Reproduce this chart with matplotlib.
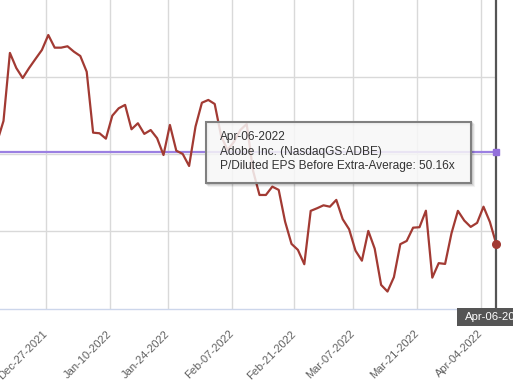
import numpy as np
import pandas as pd
import matplotlib
matplotlib.use("Agg")
import matplotlib.pyplot as plt
from matplotlib.patches import Rectangle

plt.rcParams['font.family'] = ['Liberation Sans', 'DejaVu Sans']

# P/Diluted EPS Before Extra (x), one value per trading day, Dec-14-2021 .. Apr-06-2022
pe_values = [50.80, 52.16, 56.57, 55.59, 54.94, 55.59, 56.18, 56.76,
             57.73, 56.91, 56.91, 57.00, 56.65, 56.37, 55.35, 51.40, 51.36, 51.01,
             52.50, 52.98, 53.20, 51.62, 52.01, 51.32, 51.57, 51.04, 49.95, 51.90,
             50.23, 50.02, 49.24, 51.79, 53.34, 53.52, 53.26, 51.19, 50.28, 50.80,
             51.57, 51.96, 48.92, 47.36, 47.36, 47.90, 47.69, 45.63, 44.19, 43.80,
             42.87, 46.33, 46.50, 46.69, 46.60, 47.04, 45.79, 45.14, 43.75, 43.10,
             45.03, 43.88, 41.53, 41.10, 42.03, 44.17, 44.38, 45.24, 45.27, 46.34,
             42.00, 42.94, 42.89, 44.88, 46.33, 45.70, 45.29, 45.55, 46.60, 45.61,
             44.17]
average_pe = 50.16
market_holidays = ["2021-12-24", "2022-01-17", "2022-02-21"]
tick_dates = ["2021-12-27", "2022-01-10", "2022-01-24", "2022-02-07",
              "2022-02-21", "2022-03-07", "2022-03-21", "2022-04-04"]
tooltip_lines = ["Apr-06-2022",
                 "Adobe Inc. (NasdaqGS:ADBE)",
                 "P/Diluted EPS Before Extra-Average: 50.16x"]
crosshair_label = "Apr-06-2022"

W, H = 513, 391


def fx(px):
    return px / W


def fy(py):
    return 1 - py / H


dates = pd.bdate_range("2021-12-14", "2022-04-06", freq="C", holidays=market_holidays)
idx = np.arange(len(dates))
day_num = (dates - dates[0]).days.values
tick_num = (pd.to_datetime(tick_dates) - dates[0]).days.values
tick_pos = np.interp(tick_num, day_num, idx) - 0.34  # ordinal axis, points sit a bit after midnight
tick_labels = [pd.Timestamp(d).strftime("%b-%d-%Y") for d in tick_dates]

fig = plt.figure(figsize=(W / 100, H / 100), dpi=100)
ax = fig.add_axes([0, 1 - 308.5 / H, 496.3 / W, 308.5 / H])

ax.set_xlim(0.453, idx[-1])
ax.set_ylim(40, 60)
ax.set_yticks([45, 50, 55])
ax.set_xticks(tick_pos)
ax.set_xticklabels(tick_labels, rotation=45, ha='right', va='center',
                   rotation_mode='anchor', fontsize=8, color='#606060')
ax.tick_params(axis='x', length=0, pad=17)
ax.tick_params(axis='y', length=0, labelleft=False)
ax.grid(True, color='#d9d9d9', lw=1)
ax.set_axisbelow(True)
for s in ['top', 'left', 'right']:
    ax.spines[s].set_visible(False)
ax.spines['bottom'].set_color('#ccd6eb')
ax.spines['bottom'].set_linewidth(1)

# average line with end marker
ax.axhline(average_pe, color='#9b80e2', lw=1.6, zorder=2)
ax.plot(idx[-1], average_pe, 's', ms=4.5, color='#9370db', clip_on=False, zorder=5)

# series
ax.plot(idx, pe_values, color='#a23a33', lw=1.6, solid_joinstyle='round', zorder=3)
ax.plot(idx[-1], pe_values[-1], 'o', ms=5.5, color='#a23a33', clip_on=False, zorder=5)

# crosshair
ax.axvline(idx[-1], color='#555555', lw=1.6, zorder=4, clip_on=False)

# crosshair label under the axis
x0, y0, x1, y1 = 457, 308, 520, 326
fig.add_artist(Rectangle((fx(x0), fy(y1)), fx(x1) - fx(x0), fy(y0) - fy(y1),
                         transform=fig.transFigure, facecolor='#555555', edgecolor='none'))
fig.text(fx(465), fy(317.5), crosshair_label, color='white', fontsize=8.2, va='center', ha='left')

# tooltip
x0, y0, x1, y1 = 206, 122, 471, 183
for k, a in [(3, 0.05), (2, 0.08), (1, 0.12)]:
    fig.add_artist(Rectangle((fx(x0 + k), fy(y1 + k)), fx(x1) - fx(x0), fy(y0) - fy(y1),
                             transform=fig.transFigure, facecolor='none',
                             edgecolor=(0, 0, 0, a), lw=1.5, zorder=6))
fig.add_artist(Rectangle((fx(x0), fy(y1)), fx(x1) - fx(x0), fy(y0) - fy(y1),
                         transform=fig.transFigure, facecolor=(0.97, 0.97, 0.97, 0.85),
                         edgecolor='#808080', lw=1.5, zorder=7))
for i, line in enumerate(tooltip_lines):
    fig.text(fx(220), fy(137 + 14.6 * i), line, fontsize=8.6, color='#333333',
             va='center', ha='left', zorder=8)

fig.savefig("out.png", dpi=100)
